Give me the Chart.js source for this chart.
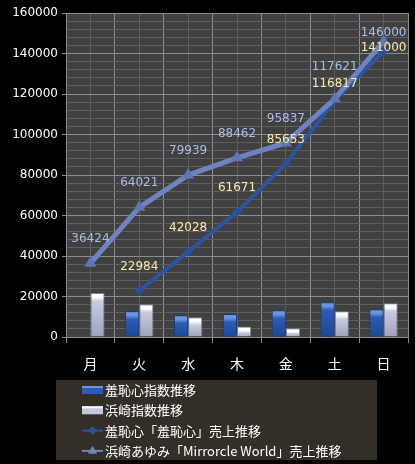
<!DOCTYPE html>
<html>
<head>
<meta charset="utf-8">
<script src="https://cdn.jsdelivr.net/npm/chart.js@4.4.1/dist/chart.umd.min.js"></script>
<style>
  html, body { margin: 0; padding: 0; background: #000; }
  #c { display: block; }
</style>
</head>
<body>
<canvas id="c" width="415" height="464"></canvas>
<script>
// データ
var days = ["月", "火", "水", "木", "金", "土", "日"];
var shuchishinIndex = [null, 12700, 10700, 11300, 13200, 17200, 13700];
var hamasakiIndex = [21700, 16200, 9700, 5200, 4300, 12700, 16700];
var shuchishinSales = [null, 22984, 42028, 61671, 85653, 116817, 141000];
var hamasakiSales = [36424, 64021, 79939, 88462, 95837, 117621, 146000];
var seriesNames = [
  "羞恥心指数推移",
  "浜崎指数推移",
  "羞恥心「羞恥心」売上推移",
  "浜崎あゆみ「Mirrorcle World」売上推移"
];
var yMax = 160000, yMajor = 20000, yMinor = 4000;

// 棒の縦グラデーション
var barFill = function(light, base, dark) {
  return function(ctx) {
    var chart = ctx.chart, y = chart.scales.y;
    if (!y || ctx.raw == null) return base;
    var top = y.getPixelForValue(ctx.raw), bottom = y.getPixelForValue(0);
    var h = bottom - top;
    if (!isFinite(h) || h < 2) return base;
    var cap = Math.min(4 / h, 0.4);
    var g = chart.ctx.createLinearGradient(0, top, 0, bottom);
    g.addColorStop(0, light);
    g.addColorStop(cap, light);
    g.addColorStop(Math.min(cap * 2, 0.6), base);
    g.addColorStop(1, dark);
    return g;
  };
};

var plotBg = {
  id: 'plotBg',
  beforeDraw: function(chart) {
    var c = chart.ctx, a = chart.chartArea;
    c.save();
    c.fillStyle = '#000';
    c.fillRect(0, 0, chart.width, chart.height);
    c.fillStyle = '#404040';
    c.fillRect(a.left, a.top, a.right - a.left, a.bottom - a.top);
    c.restore();
  }
};

// 値ラベル（重なったら上下にずらす）
var valueLabels = {
  id: 'valueLabels',
  afterDatasetsDraw: function(chart) {
    var c = chart.ctx, area = chart.chartArea;
    var hiPts = chart.getDatasetMeta(3).data, loPts = chart.getDatasetMeta(2).data;
    c.save();
    c.font = '12px "DejaVu Sans"';
    c.textAlign = 'center';
    c.textBaseline = 'middle';
    days.forEach(function(d, i) {
      var ya = hamasakiSales[i] != null ? hiPts[i].y - 24 : null;
      var yb = shuchishinSales[i] != null ? loPts[i].y - 24 : null;
      if (ya != null && yb != null && Math.abs(ya - yb) < 17) {
        var m = (ya + yb) / 2;
        ya = m - 8.5;
        yb = m + 8.5;
      }
      if (ya != null && ya < area.top + 20) {
        ya = area.top + 20;
        if (yb != null && yb - ya < 15) yb = ya + 15;
      }
      if (ya != null) {
        c.fillStyle = '#a9bde6';
        c.fillText(String(hamasakiSales[i]), hiPts[i].x, ya);
      }
      if (yb != null) {
        c.fillStyle = '#fbe9a6';
        c.fillText(String(shuchishinSales[i]), loPts[i].x, yb);
      }
    });
    c.restore();
  }
};

var boxLegend = {
  id: 'boxLegend',
  afterDraw: function(chart) {
    var c = chart.ctx;
    var swatch = [
      { type: 'bar', color: '#2a5cb8', edge: '#6b95e0' },
      { type: 'bar', color: '#c3c7dc', edge: '#ffffff' },
      { type: 'line', color: '#2c54a0', style: 'rectRot', r: 4 },
      { type: 'line', color: '#6e84c0', style: 'triangle', r: 5 }
    ];
    c.save();
    c.fillStyle = '#332f27';
    c.fillRect(56, 380, 321, 80);
    c.font = '13px "Noto Sans CJK JP"';
    c.textBaseline = 'middle';
    seriesNames.forEach(function(name, i) {
      var y = 390 + i * 20.3, s = swatch[i];
      if (s.type === 'bar') {
        c.fillStyle = s.color;
        c.fillRect(82, y - 4, 21, 8);
        c.fillStyle = s.edge;
        c.fillRect(82, y - 4, 21, 2);
      } else {
        c.strokeStyle = s.color;
        c.lineWidth = 2;
        c.beginPath();
        c.moveTo(82, y);
        c.lineTo(103, y);
        c.stroke();
        c.fillStyle = s.color;
        Chart.helpers.drawPoint(c, { pointStyle: s.style, radius: s.r, rotation: 0, borderWidth: 0 }, 92.5, y);
        c.fill();
      }
      c.fillStyle = '#ffffff';
      c.fillText(name, 105, y);
    });
    c.restore();
  }
};

var majorGrid = '#8c8c8c', minorGrid = '#5e5e5e';

new Chart(document.getElementById('c'), {
  data: {
    labels: days,
    datasets: [
      {
        type: 'bar', label: seriesNames[0], data: shuchishinIndex, order: 2,
        backgroundColor: barFill('#6b95e0', '#2a5cb8', '#1f4693'),
        borderColor: '#1b3a78', borderWidth: 1,
        barPercentage: 1, categoryPercentage: 0.58
      },
      {
        type: 'bar', label: seriesNames[1], data: hamasakiIndex, order: 2,
        backgroundColor: barFill('#ffffff', '#c8cce0', '#9ea3bb'),
        borderColor: '#7d8196', borderWidth: 1,
        barPercentage: 1, categoryPercentage: 0.58
      },
      {
        type: 'line', label: seriesNames[2], data: shuchishinSales, order: 1,
        borderColor: '#2c54a0', borderWidth: 4, tension: 0,
        pointStyle: 'rectRot', pointRadius: 5, pointBorderWidth: 0,
        pointBackgroundColor: '#28509c'
      },
      {
        type: 'line', label: seriesNames[3], data: hamasakiSales, order: 0,
        borderColor: '#6e84c0', borderWidth: 5, tension: 0,
        pointStyle: 'triangle', pointRadius: 7, pointBorderWidth: 0,
        pointBackgroundColor: '#5f76b4'
      }
    ]
  },
  options: {
    responsive: false,
    animation: false,
    layout: { padding: { left: 0, right: 7, top: 13, bottom: 84 } },
    plugins: { legend: { display: false }, tooltip: { enabled: false } },
    scales: {
      x: {
        offset: true,
        grid: { offset: true, color: majorGrid, tickColor: majorGrid, tickLength: 6 },
        border: { color: majorGrid },
        ticks: { color: '#ffffff', font: { family: 'Noto Sans CJK JP', size: 14 }, padding: 12 },
        afterFit: function(s) { s.height = 43; }
      },
      xc: {
        type: 'category', position: 'bottom', offset: true,
        grid: { offset: false, color: minorGrid, drawTicks: false },
        border: { display: false },
        ticks: { display: false },
        afterFit: function(s) { s.height = 0; }
      },
      y: {
        min: 0, max: yMax,
        ticks: {
          stepSize: yMinor, autoSkip: false, color: '#ffffff', padding: 4,
          font: { family: 'DejaVu Sans', size: 12 },
          callback: function(v) { return v % yMajor === 0 ? String(v) : ''; }
        },
        grid: {
          color: function(c) { return c.tick && c.tick.value % yMajor === 0 ? majorGrid : minorGrid; },
          tickColor: function(c) { return c.tick && c.tick.value % yMajor === 0 ? majorGrid : 'rgba(0,0,0,0)'; },
          tickLength: 4
        },
        border: { color: majorGrid },
        afterFit: function(s) { s.width = 66; }
      }
    }
  },
  plugins: [plotBg, valueLabels, boxLegend]
});
</script>
</body>
</html>
